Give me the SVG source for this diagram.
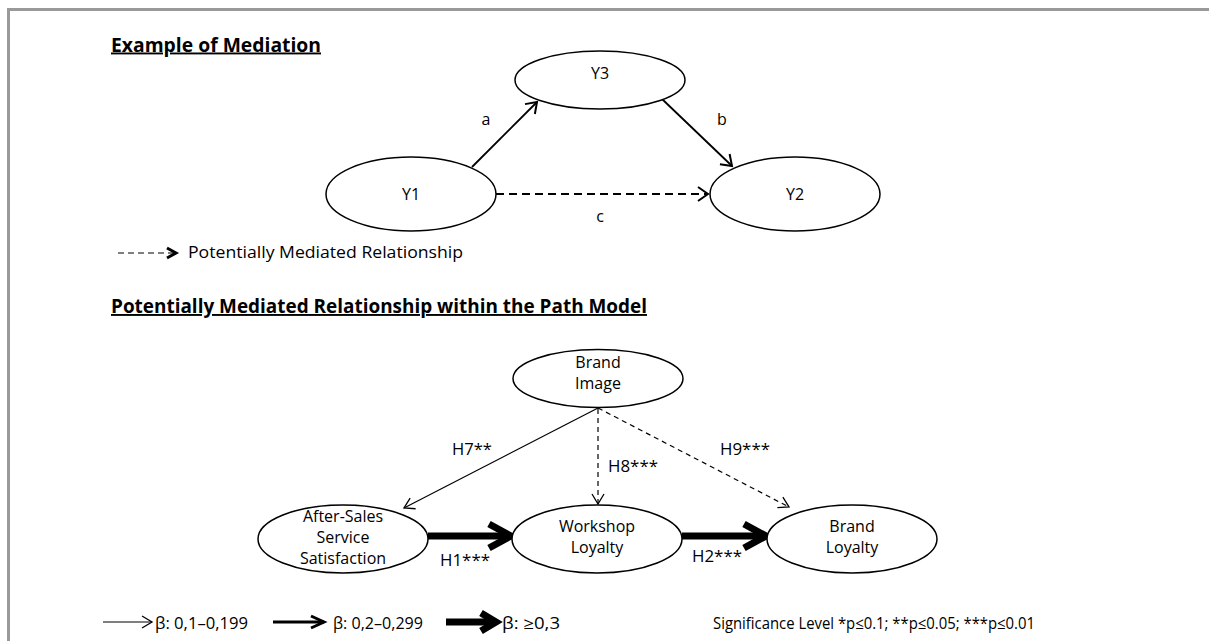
<svg xmlns="http://www.w3.org/2000/svg" width="1209" height="641" viewBox="0 0 1209 641">
  <style>
    text { font-family: "Open Sans", "Liberation Sans", sans-serif; fill: #000; }
    .title { font-size: 19px; font-weight: bold; text-decoration: underline; }
    .lbl { font-size: 16px; }
    .node { font-size: 16px; text-anchor: middle; }
    .ell { fill: #fff; stroke: #000; stroke-width: 1.5; }
    .frame { stroke: #999; stroke-width: 3; fill: none; }
    .ln1 { stroke: #000; stroke-width: 1.2; fill: none; }
    .ln2 { stroke: #000; stroke-width: 1.8; fill: none; }
    .ln3 { stroke: #000; stroke-width: 3; fill: none; }
    .ln7 { stroke: #000; stroke-width: 7; fill: none; }
    .dashA { stroke-dasharray: 8 5; }
    .dashB { stroke-dasharray: 5 4; }
    .dashC { stroke-dasharray: 6 4; }
  </style>
  <defs>
    <marker id="headSm" markerUnits="userSpaceOnUse" viewBox="-14 -10 16 20" markerWidth="16" markerHeight="20" refX="0" refY="0" orient="auto" overflow="visible">
      <path d="M-10,-7 L0,0 L-10,7" fill="none" stroke="#000" stroke-width="2"/>
    </marker>
    <marker id="headThin" markerUnits="userSpaceOnUse" viewBox="-14 -10 16 20" markerWidth="16" markerHeight="20" refX="0" refY="0" orient="auto" overflow="visible">
      <path d="M-10,-6 L0,0 L-10,6" fill="none" stroke="#000" stroke-width="1.3"/>
    </marker>
    <marker id="headMid" markerUnits="userSpaceOnUse" viewBox="-18 -10 20 20" markerWidth="20" markerHeight="20" refX="0" refY="0" orient="auto" overflow="visible">
      <path d="M-13,-6 L0,0 L-13,6" fill="none" stroke="#000" stroke-width="3"/>
    </marker>
    <marker id="headBold" markerUnits="userSpaceOnUse" viewBox="-12 -8 14 16" markerWidth="14" markerHeight="16" refX="0" refY="0" orient="auto" overflow="visible">
      <path d="M-9,-5 L0,0 L-9,5" fill="none" stroke="#000" stroke-width="3"/>
    </marker>
  </defs>

  <!-- outer frame: top and left edges -->
  <path class="frame" d="M8.5,641 L8.5,9.5 L1209,9.5"/>

  <!-- section 1: example of mediation -->
  <text class="title" x="111" y="51.5" textLength="210" lengthAdjust="spacingAndGlyphs">Example of Mediation</text>

  <g id="connectors-example">
    <line class="ln2" x1="472" y1="167" x2="537" y2="102" marker-end="url(#headSm)"/>
    <line class="ln2" x1="662" y1="99" x2="732" y2="166" marker-end="url(#headSm)"/>
    <line class="ln2 dashA" x1="496" y1="194" x2="708" y2="194" marker-end="url(#headSm)"/>
    <text class="node" x="486" y="125">a</text>
    <text class="node" x="722" y="125">b</text>
    <text class="node" x="600" y="222">c</text>
  </g>

  <g id="node-y3">
    <ellipse class="ell" cx="600" cy="80" rx="85" ry="29"/>
    <text class="node" x="600" y="79">Y3</text>
  </g>
  <g id="node-y1">
    <ellipse class="ell" cx="411" cy="194" rx="85" ry="37"/>
    <text class="node" x="411" y="200">Y1</text>
  </g>
  <g id="node-y2">
    <ellipse class="ell" cx="795" cy="194" rx="85" ry="37"/>
    <text class="node" x="795" y="200">Y2</text>
  </g>

  <g id="legend-dashed">
    <line class="ln1 dashC" x1="118" y1="253" x2="176" y2="253" marker-end="url(#headBold)"/>
    <text class="lbl" x="188" y="258" textLength="275" lengthAdjust="spacingAndGlyphs">Potentially Mediated Relationship</text>
  </g>

  <!-- section 2: path model -->
  <text class="title" x="111" y="313" textLength="536" lengthAdjust="spacingAndGlyphs">Potentially Mediated Relationship within the Path Model</text>

  <g id="connectors-model">
    <line class="ln1" x1="598" y1="408" x2="404" y2="508" marker-end="url(#headThin)"/>
    <line class="ln1 dashB" x1="598" y1="409" x2="598" y2="504" marker-end="url(#headThin)"/>
    <line class="ln1 dashB" x1="598" y1="408" x2="789" y2="507" marker-end="url(#headThin)"/>
    <line class="ln7" x1="428" y1="536" x2="508" y2="536"/>
    <path class="ln7" d="M489,524 L511,536 L489,548"/>
    <line class="ln7" x1="682" y1="536" x2="762" y2="536"/>
    <path class="ln7" d="M744,524 L766,536 L744,548"/>
    <text class="lbl" x="452" y="455" textLength="40" lengthAdjust="spacingAndGlyphs">H7**</text>
    <text class="lbl" x="608" y="472" textLength="50" lengthAdjust="spacingAndGlyphs">H8***</text>
    <text class="lbl" x="720" y="455" textLength="50" lengthAdjust="spacingAndGlyphs">H9***</text>
    <text class="lbl" x="440" y="566" textLength="50" lengthAdjust="spacingAndGlyphs">H1***</text>
    <text class="lbl" x="692" y="562" textLength="50" lengthAdjust="spacingAndGlyphs">H2***</text>
  </g>

  <g id="node-brand-image">
    <ellipse class="ell" cx="598" cy="378.5" rx="85" ry="29"/>
    <text class="node" x="598" y="367.5">Brand</text>
    <text class="node" x="598" y="388.5">Image</text>
  </g>
  <g id="node-after-sales">
    <ellipse class="ell" cx="343" cy="539" rx="85" ry="34"/>
    <text class="node" x="343" y="521.5">After-Sales</text>
    <text class="node" x="343" y="542.5">Service</text>
    <text class="node" x="343" y="563.5">Satisfaction</text>
  </g>
  <g id="node-workshop-loyalty">
    <ellipse class="ell" cx="597" cy="539" rx="85" ry="34"/>
    <text class="node" x="597" y="532">Workshop</text>
    <text class="node" x="597" y="553">Loyalty</text>
  </g>
  <g id="node-brand-loyalty">
    <ellipse class="ell" cx="852" cy="539" rx="85" ry="34"/>
    <text class="node" x="852" y="532">Brand</text>
    <text class="node" x="852" y="553">Loyalty</text>
  </g>

  <g id="legend-strength">
    <line class="ln1" x1="103" y1="622" x2="152" y2="622" marker-end="url(#headThin)"/>
    <text class="lbl" x="155" y="629" textLength="93" lengthAdjust="spacingAndGlyphs">β: 0,1–0,199</text>
    <line class="ln3" x1="273" y1="622" x2="324" y2="622" marker-end="url(#headMid)"/>
    <text class="lbl" x="333" y="629" textLength="90" lengthAdjust="spacingAndGlyphs">β: 0,2–0,299</text>
    <line class="ln7" x1="446" y1="622" x2="492" y2="622"/>
    <path class="ln7" d="M481,613 L496,622 L481,631"/>
    <text class="lbl" x="502" y="629" textLength="58" lengthAdjust="spacingAndGlyphs">β: ≥0,3</text>
    <text class="lbl" x="713" y="629" textLength="322" lengthAdjust="spacingAndGlyphs">Significance Level *p≤0.1; **p≤0.05; ***p≤0.01</text>
  </g>
</svg>
